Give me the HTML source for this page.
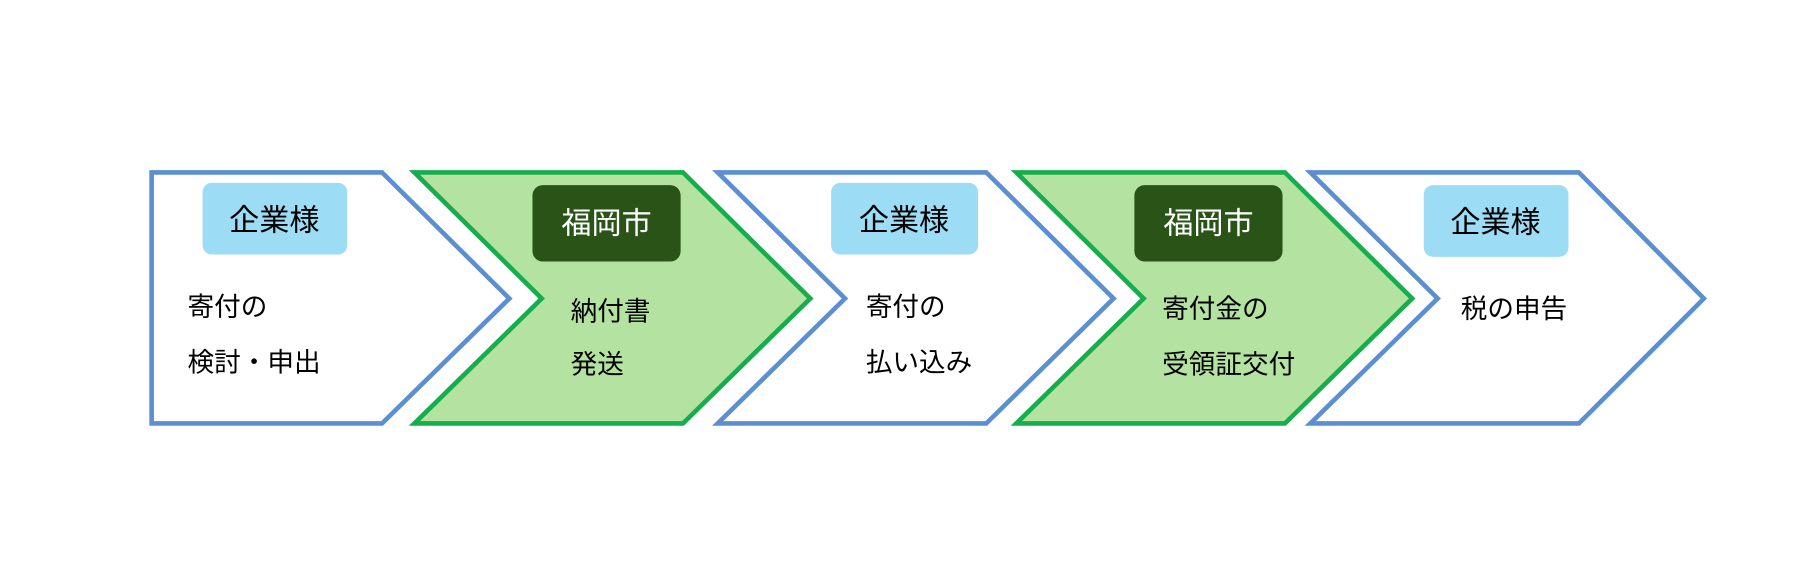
<!DOCTYPE html>
<html><head><meta charset="utf-8"><style>
html,body{margin:0;padding:0;background:#fff;}
svg{display:block;}
text{font-family:"Liberation Sans","Noto Sans CJK JP",sans-serif;font-size:23px;}
.h{font-size:26px;}
</style></head><body>
<svg width="1815" height="582" viewBox="0 0 1568 503" preserveAspectRatio="none">
<rect width="1568" height="503" fill="#fff"/>
<g stroke-width="4" stroke-linejoin="miter">
<polygon points="131,149 330,149 440,258 330,366 131,366" fill="#fff" stroke="#5b8fd0"/>
<polygon points="358,149 590,149 700,258 590,366 358,366 468,258" fill="#b4e3a1" stroke="#17ad4e"/>
<polygon points="620,149 852,149 962,258 852,366 620,366 730,258" fill="#fff" stroke="#5b8fd0"/>
<polygon points="878,149 1110,149 1220,258 1110,366 878,366 988,258" fill="#b4e3a1" stroke="#17ad4e"/>
<polygon points="1132,149 1364,149 1472,258 1364,366 1132,366 1242,258" fill="#fff" stroke="#5b8fd0"/>
</g>
<rect x="175" y="158" width="125" height="62" rx="8" fill="#9ddcf5"/>
<rect x="460" y="160" width="128" height="66" rx="9" fill="#2a5318"/>
<rect x="718" y="158" width="127" height="62" rx="8" fill="#9ddcf5"/>
<rect x="980" y="160" width="128" height="66" rx="9" fill="#2a5318"/>
<rect x="1230" y="160" width="125" height="62" rx="8" fill="#9ddcf5"/>
<g text-anchor="middle" class="h">
<text class="h" x="237" y="199">企業様</text>
<text class="h" x="524" y="202" fill="#fff">福岡市</text>
<text class="h" x="781" y="199">企業様</text>
<text class="h" x="1044" y="202" fill="#fff">福岡市</text>
<text class="h" x="1292" y="201">企業様</text>
</g>
<text x="162" y="273">寄付の</text>
<text x="162" y="321">検討・申出</text>
<text x="493" y="277">納付書</text>
<text x="493" y="323">発送</text>
<text x="748" y="273">寄付の</text>
<text x="748" y="321">払い込み</text>
<text x="1004" y="275">寄付金の</text>
<text x="1004" y="323">受領証交付</text>
<text x="1262" y="275">税の申告</text>
</svg>
</body></html>
